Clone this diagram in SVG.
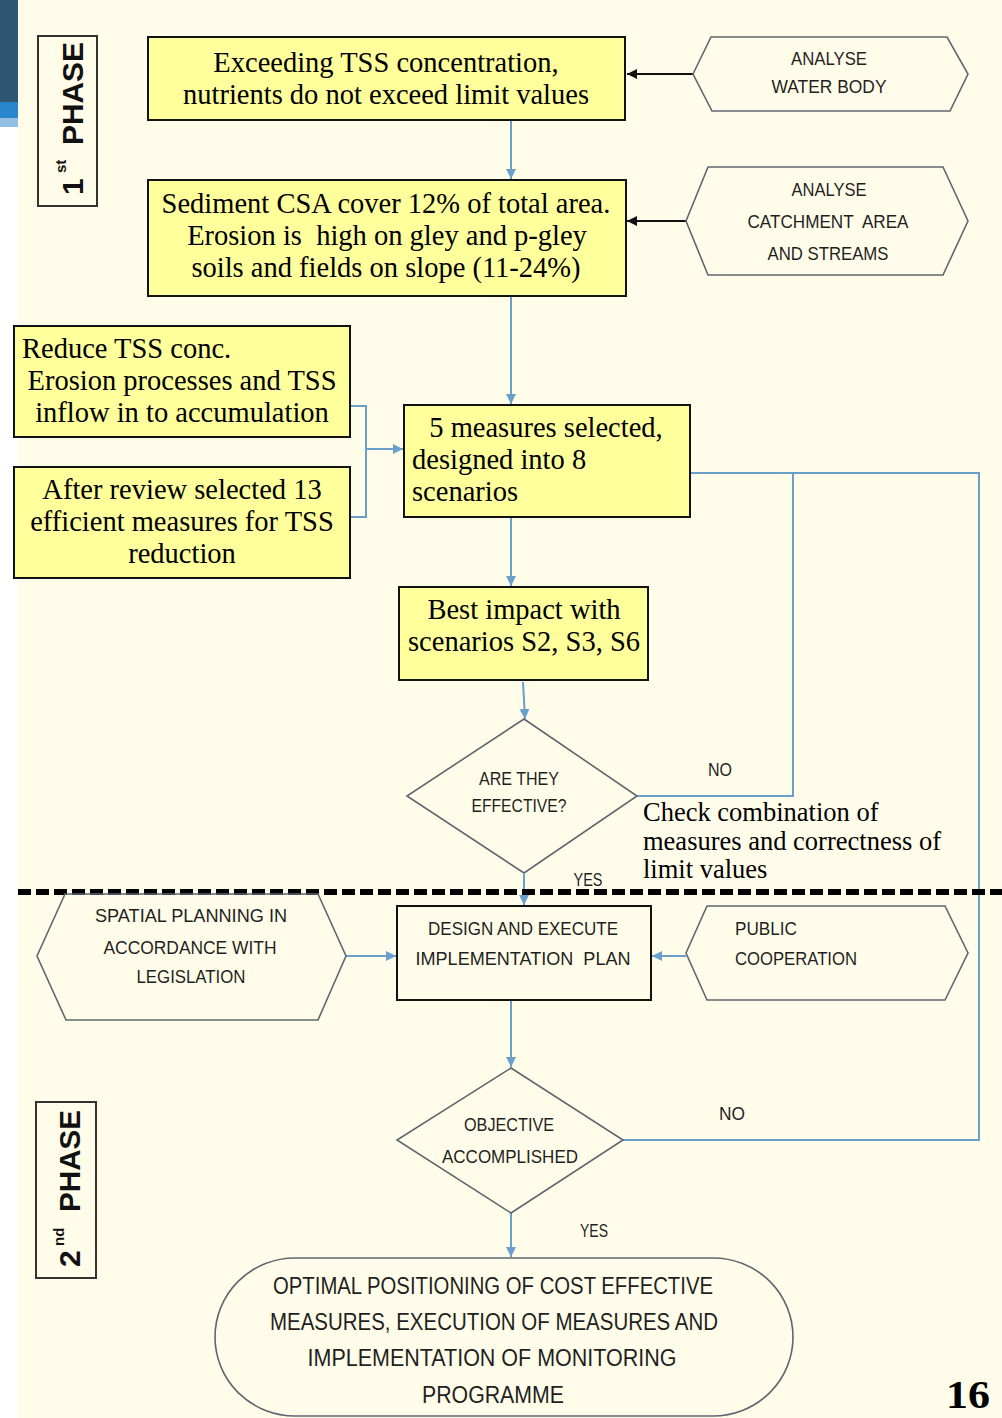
<svg xmlns="http://www.w3.org/2000/svg" width="1002" height="1418" viewBox="0 0 1002 1418">
<defs>
<style>
.bg{fill:#FFFDE9}
.ybox{fill:#FFFF9C;stroke:#111;stroke-width:2}
.pbox{fill:none;stroke:#333;stroke-width:2}
.shape{fill:none;stroke:#5E6770;stroke-width:1.6}
.blk{fill:none;stroke:#111;stroke-width:2}
.ser{font-family:"Liberation Serif","Times New Roman",serif;font-size:28.5px;fill:#000}
.ser2{font-family:"Liberation Serif","Times New Roman",serif;font-size:26.5px;fill:#000}
.sans{font-family:"Liberation Sans",Arial,sans-serif;font-size:19px;fill:#1f1f1f}
.sansL{font-family:"Liberation Sans",Arial,sans-serif;font-size:23px;fill:#1f1f1f}
.ph{font-family:"Liberation Sans",Arial,sans-serif;font-weight:bold;fill:#111}
.c{text-anchor:middle}
.bl{fill:none;stroke:#6A9FCC;stroke-width:2}
.bk{fill:none;stroke:#111;stroke-width:2}
</style>
<marker id="ab" viewBox="0 0 10 10" refX="10" refY="5" markerWidth="10" markerHeight="10" markerUnits="userSpaceOnUse" orient="auto">
<path d="M0,0 L10,5 L0,10 z" fill="#6A9FCC"/>
</marker>
<marker id="ak" viewBox="0 0 10 10" refX="10" refY="5" markerWidth="10" markerHeight="10" markerUnits="userSpaceOnUse" orient="auto">
<path d="M0,0 L10,5 L0,10 z" fill="#111"/>
</marker>
</defs>

<g id="background">
<rect x="0" y="0" width="1002" height="1418" fill="#FFFFFF"/>
<rect class="bg" x="18" y="0" width="984" height="1418"/>
<rect x="0" y="0" width="18" height="102" fill="#2F5673"/>
<rect x="0" y="102" width="18" height="16" fill="#2A86CC"/>
<rect x="0" y="118" width="18" height="9" fill="#93C0E3"/>
</g>

<g id="phase1">
<rect class="pbox" x="38" y="36" width="59" height="170"/>
<g transform="translate(83,195) rotate(-90)">
<text class="ph" x="0" y="0" font-size="30">1</text>
<text class="ph" x="22" y="-17" font-size="15">st</text>
<text class="ph" x="50" y="0" font-size="30" textLength="103" lengthAdjust="spacingAndGlyphs">PHASE</text>
</g>
</g>

<g id="phase2">
<rect class="pbox" x="36" y="1102" width="60" height="176"/>
<g transform="translate(80,1267) rotate(-90)">
<text class="ph" x="0" y="0" font-size="30">2</text>
<text class="ph" x="21" y="-16" font-size="15">nd</text>
<text class="ph" x="55" y="0" font-size="30" textLength="102" lengthAdjust="spacingAndGlyphs">PHASE</text>
</g>
</g>

<g id="connectors">
<path class="bk" d="M693,74 H627" marker-end="url(#ak)"/>
<path class="bk" d="M686,221 H627" marker-end="url(#ak)"/>
<path class="bl" d="M511,121 V179" marker-end="url(#ab)"/>
<path class="bl" d="M511,297 V404" marker-end="url(#ab)"/>
<path class="bl" d="M350,406 H366 V517 H350"/>
<path class="bl" d="M366,449 H403" marker-end="url(#ab)"/>
<path class="bl" d="M511,518 V586" marker-end="url(#ab)"/>
<path class="bl" d="M523,682 L525,719" marker-end="url(#ab)"/>
<path class="bl" d="M524,874 V905" marker-end="url(#ab)"/>
<path class="bl" d="M637,796 H793 V473"/>
<path class="bl" d="M691,473 H979 V1140 H623"/>
<path class="bl" d="M346,956 H396" marker-end="url(#ab)"/>
<path class="bl" d="M686,956 H652" marker-end="url(#ab)"/>
<path class="bl" d="M511,1001 V1067" marker-end="url(#ab)"/>
<path class="bl" d="M511,1213 V1257" marker-end="url(#ab)"/>
</g>

<g id="box1">
<rect class="ybox" x="148" y="37" width="477" height="83"/>
<text class="ser c" x="386" y="72">Exceeding TSS concentration,</text>
<text class="ser c" x="386" y="104">nutrients do not exceed limit values</text>
</g>

<g id="analyse-water">
<polygon class="shape" points="693,74 711,37 947,37 968,74 950,111 712,111"/>
<text class="sans c" x="829" y="65" textLength="76" lengthAdjust="spacingAndGlyphs">ANALYSE</text>
<text class="sans c" x="829" y="93" textLength="115" lengthAdjust="spacingAndGlyphs">WATER BODY</text>
</g>

<g id="box2">
<rect class="ybox" x="148" y="180" width="478" height="116"/>
<text class="ser c" x="386" y="213">Sediment CSA cover 12% of total area.</text>
<text class="ser c" x="387" y="245" xml:space="preserve">Erosion is  high on gley and p-gley</text>
<text class="ser c" x="386" y="277">soils and fields on slope (11-24%)</text>
</g>

<g id="analyse-catchment">
<polygon class="shape" points="686,221 708,167 943,167 968,221 943,275 708,275"/>
<text class="sans c" x="829" y="196" textLength="75" lengthAdjust="spacingAndGlyphs">ANALYSE</text>
<text class="sans c" x="828" y="228" textLength="161" lengthAdjust="spacingAndGlyphs" xml:space="preserve">CATCHMENT  AREA</text>
<text class="sans c" x="828" y="260" textLength="121" lengthAdjust="spacingAndGlyphs">AND STREAMS</text>
</g>

<g id="box3">
<rect class="ybox" x="14" y="326" width="336" height="111"/>
<text class="ser" x="22" y="358">Reduce TSS conc.</text>
<text class="ser c" x="182" y="390">Erosion processes and TSS</text>
<text class="ser c" x="182" y="422">inflow in to accumulation</text>
</g>

<g id="box4">
<rect class="ybox" x="14" y="467" width="336" height="111"/>
<text class="ser c" x="182" y="499">After review selected 13</text>
<text class="ser c" x="182" y="531">efficient measures for TSS</text>
<text class="ser c" x="182" y="563">reduction</text>
</g>

<g id="box5">
<rect class="ybox" x="404" y="405" width="286" height="112"/>
<text class="ser c" x="546" y="437">5 measures selected,</text>
<text class="ser" x="412" y="469">designed into 8</text>
<text class="ser" x="412" y="501">scenarios</text>
</g>

<g id="box-best">
<rect class="ybox" x="399" y="587" width="249" height="93"/>
<text class="ser c" x="524" y="619">Best impact with</text>
<text class="ser c" x="524" y="651">scenarios S2, S3, S6</text>
</g>

<g id="decision1">
<polygon class="shape" points="524,719 637,796 524,873 407,796"/>
<text class="sans c" x="519" y="785" textLength="80" lengthAdjust="spacingAndGlyphs">ARE THEY</text>
<text class="sans c" x="519" y="812" textLength="95" lengthAdjust="spacingAndGlyphs">EFFECTIVE?</text>
</g>

<g id="labels1">
<text class="sans c" x="720" y="776" textLength="24" lengthAdjust="spacingAndGlyphs">NO</text>
<text class="sans c" x="588" y="886" textLength="29" lengthAdjust="spacingAndGlyphs">YES</text>
<text class="ser2" x="643" y="821">Check combination of</text>
<text class="ser2" x="643" y="850">measures and correctness of</text>
<text class="ser2" x="643" y="878">limit values</text>
</g>

<g id="phase-divider">
<line x1="18" y1="892" x2="1002" y2="892" stroke="#000" stroke-width="6" stroke-dasharray="13 5"/>
</g>

<g id="spatial-planning">
<polygon class="shape" points="37,956 65,894 318,894 346,956 318,1020 66,1020"/>
<text class="sans c" x="191" y="922" textLength="192" lengthAdjust="spacingAndGlyphs">SPATIAL PLANNING IN</text>
<text class="sans c" x="190" y="954" textLength="173" lengthAdjust="spacingAndGlyphs">ACCORDANCE WITH</text>
<text class="sans c" x="191" y="983" textLength="109" lengthAdjust="spacingAndGlyphs">LEGISLATION</text>
</g>

<g id="design-plan">
<rect class="blk" x="397" y="906" width="254" height="94"/>
<text class="sans c" x="523" y="935" textLength="190" lengthAdjust="spacingAndGlyphs">DESIGN AND EXECUTE</text>
<text class="sans c" x="523" y="965" textLength="215" lengthAdjust="spacingAndGlyphs" xml:space="preserve">IMPLEMENTATION  PLAN</text>
</g>

<g id="public-cooperation">
<polygon class="shape" points="686,953 707,906 945,906 968,953 945,1000 707,1000"/>
<text class="sans" x="735" y="935" textLength="62" lengthAdjust="spacingAndGlyphs">PUBLIC</text>
<text class="sans" x="735" y="965" textLength="122" lengthAdjust="spacingAndGlyphs">COOPERATION</text>
</g>

<g id="decision2">
<polygon class="shape" points="511,1068 623,1140 511,1213 397,1140"/>
<text class="sans c" x="509" y="1131" textLength="90" lengthAdjust="spacingAndGlyphs">OBJECTIVE</text>
<text class="sans c" x="510" y="1163" textLength="136" lengthAdjust="spacingAndGlyphs">ACCOMPLISHED</text>
</g>

<g id="labels2">
<text class="sans c" x="732" y="1120" textLength="26" lengthAdjust="spacingAndGlyphs">NO</text>
<text class="sans c" x="594" y="1237" textLength="28" lengthAdjust="spacingAndGlyphs">YES</text>
</g>

<g id="terminal">
<rect class="shape" x="215" y="1258" width="578" height="158" rx="80" ry="79"/>
<text class="sansL c" x="493" y="1294" textLength="440" lengthAdjust="spacingAndGlyphs">OPTIMAL POSITIONING OF COST EFFECTIVE</text>
<text class="sansL c" x="494" y="1330" textLength="448" lengthAdjust="spacingAndGlyphs">MEASURES, EXECUTION OF MEASURES AND</text>
<text class="sansL c" x="492" y="1366" textLength="369" lengthAdjust="spacingAndGlyphs">IMPLEMENTATION OF MONITORING</text>
<text class="sansL c" x="493" y="1403" textLength="142" lengthAdjust="spacingAndGlyphs">PROGRAMME</text>
</g>

<g id="page-number">
<text x="968" y="1408" font-family="Liberation Serif,'Times New Roman',serif" font-weight="bold" font-size="41" text-anchor="middle" fill="#000" textLength="44" lengthAdjust="spacingAndGlyphs">16</text>
</g>
</svg>
